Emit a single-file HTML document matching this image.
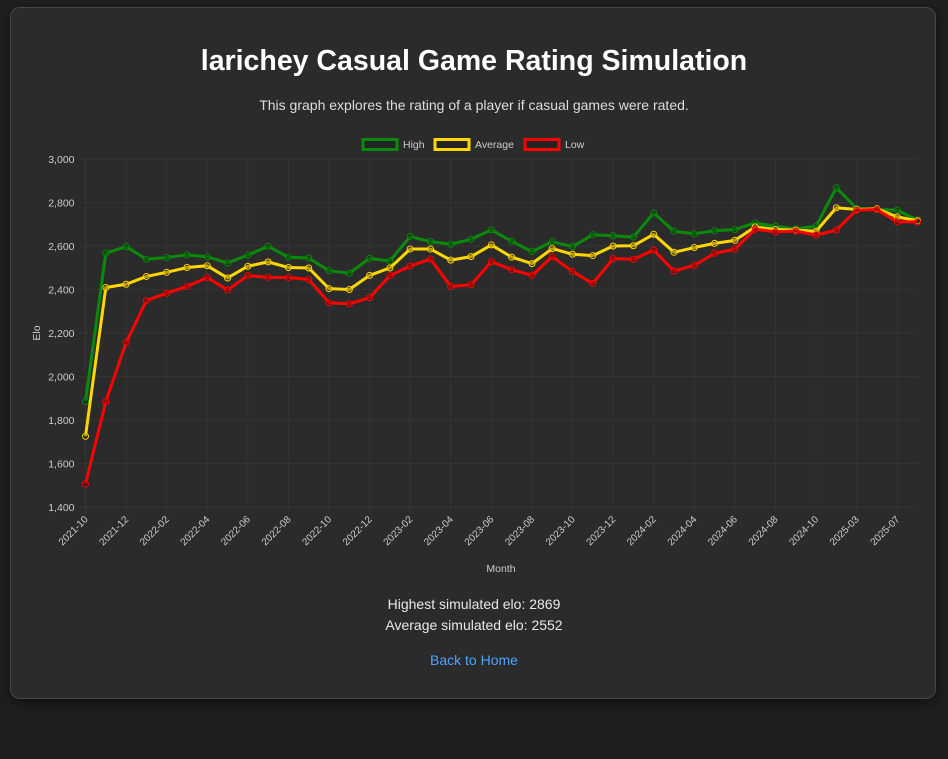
<!DOCTYPE html>
<html><head><meta charset="utf-8"><style>
html,body{margin:0;padding:0;background:#1f1f1f;width:948px;height:759px;overflow:hidden;font-family:"Liberation Sans",sans-serif;}
.card{position:absolute;left:10px;top:7px;width:924px;height:690px;background:#2b2b2b;border:1px solid #474747;border-radius:10px;box-shadow:0 4px 12px rgba(0,0,0,.5);}
h1{position:absolute;left:0;width:100%;top:45px;margin:0;text-align:center;color:#fff;font-size:28.5px;font-weight:bold;}
.sub{position:absolute;left:0;width:100%;top:97px;text-align:center;color:#ddd;font-size:14px;}
.stat{position:absolute;left:0;width:100%;text-align:center;color:#e8e8e8;font-size:14px;}
a{color:#4da3ff;text-decoration:none;}
svg{position:absolute;left:0;top:0;}
</style></head><body>
<div class="card"></div>
<h1>larichey Casual Game Rating Simulation</h1>
<div class="sub">This graph explores the rating of a player if casual games were rated.</div>
<svg id="chart" width="948" height="759"></svg>
<div class="stat" style="top:596px">Highest simulated elo: 2869</div>
<div class="stat" style="top:617px">Average simulated elo: 2552</div>
<div class="stat" style="top:652px"><a href="#">Back to Home</a></div>
<script>
const months=["2021-10","2021-11","2021-12","2022-01","2022-02","2022-03","2022-04","2022-05","2022-06","2022-07","2022-08","2022-09","2022-10","2022-11","2022-12","2023-01","2023-02","2023-03","2023-04","2023-05","2023-06","2023-07","2023-08","2023-09","2023-10","2023-11","2023-12","2024-01","2024-02","2024-03","2024-04","2024-05","2024-06","2024-07","2024-08","2024-09","2024-10","2024-12","2025-03","2025-05","2025-07","2025-08"];
const high=[1885,2567,2597,2539,2547,2559,2550,2522,2558,2599,2548,2545,2486,2475,2543,2531,2644,2620,2608,2631,2674,2622,2574,2620,2597,2652,2647,2641,2752,2668,2656,2670,2676,2706,2691,2679,2691,2868,2773,2768,2765,2719];
const avg=[1725,2409,2424,2460,2479,2501,2509,2453,2507,2527,2501,2499,2404,2400,2465,2499,2586,2586,2535,2551,2605,2549,2519,2588,2562,2556,2600,2601,2654,2571,2593,2612,2626,2688,2676,2673,2668,2776,2768,2771,2734,2716];
const low=[1506,1885,2156,2349,2383,2414,2455,2398,2464,2456,2455,2446,2339,2334,2362,2464,2508,2540,2414,2422,2528,2491,2465,2551,2483,2428,2542,2539,2581,2485,2511,2566,2586,2677,2665,2669,2650,2673,2765,2768,2711,2711];
const yTicks=[1400,1600,1800,2000,2200,2400,2600,2800,3000];
const L=85.5,R=917.5,T=159,B=507,YMIN=1400,YMAX=3000;
const xs=i=>L+i*(R-L)/(months.length-1);
const ys=v=>B-(v-YMIN)/(YMAX-YMIN)*(B-T);
const svg=document.getElementById('chart');const NS='http://www.w3.org/2000/svg';
function mk(t,a,p){const e=document.createElementNS(NS,t);for(const k in a)e.setAttribute(k,a[k]);(p||svg).appendChild(e);return e;}
yTicks.forEach(v=>{
  const g=mk('line',{x1:L-6,x2:R,y1:ys(v),y2:ys(v),stroke:'#343434','stroke-width':1});
  
  
  const t=mk('text',{x:L-11,y:ys(v)+4,'text-anchor':'end',fill:'#ccc','font-size':10.5,'font-family':'Liberation Sans, sans-serif'});
  t.textContent=v.toLocaleString('en-US');
  
  
});
months.forEach((m,i)=>{
  if(i%2) return;
  const g=mk('line',{x1:xs(i),x2:xs(i),y1:T,y2:B+6,stroke:'#343434','stroke-width':1});
  
  
  const t=mk('text',{x:0,y:0,'text-anchor':'end',fill:'#ccc','font-size':10,'font-family':'Liberation Sans, sans-serif',transform:`translate(${xs(i)+3},${B+13}) rotate(-45)`});
  t.textContent=m;
  
  
});
const yt=mk('text',{x:0,y:0,'text-anchor':'middle',fill:'#ccc','font-size':10.5,'font-family':'Liberation Sans, sans-serif',transform:`translate(40,333) rotate(-90)`});yt.textContent='Elo';


const xt=mk('text',{x:501,y:572,'text-anchor':'middle',fill:'#ccc','font-size':10.5,'font-family':'Liberation Sans, sans-serif'});xt.textContent='Month';


const series=[['high',high,'#0a8a0a'],['average',avg,'#ffd700'],['low',low,'#ff0000']];
series.forEach(([n,d,c])=>{
  const p=mk('polyline',{points:d.map((v,i)=>xs(i)+','+ys(v)).join(' '),fill:'none',stroke:c,'stroke-width':3,'stroke-linejoin':'round'});
  
  
  d.forEach((v,i)=>{
    const pt=mk('circle',{cx:xs(i),cy:ys(v),r:3,fill:'rgba(0,0,0,0.25)',stroke:c,'stroke-width':1});
    
    
  });
});
const leg=[['High','#0a8a0a',362],['Average','#ffd700',434],['Low','#ff0000',524]];
leg.forEach(([n,c,x])=>{
  const b=mk('rect',{x:x+1,y:139.5,width:34,height:10,fill:'rgba(0,0,0,0.15)',stroke:c,'stroke-width':3});
  
  
  const t=mk('text',{x:x+41,y:148,fill:'#ccc','font-size':10.5,'font-family':'Liberation Sans, sans-serif'});t.textContent=n;
  
  
});
</script>
</body></html>
